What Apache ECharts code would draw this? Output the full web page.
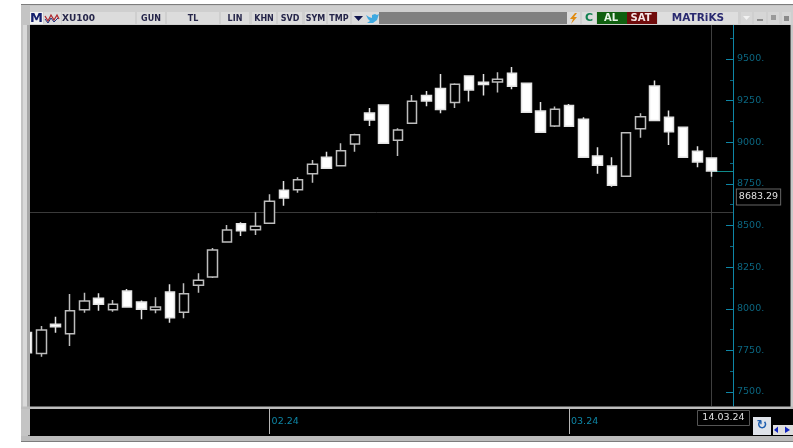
<!DOCTYPE html>
<html>
<head>
<meta charset="utf-8">
<style>html,body{margin:0;padding:0;background:#fff}#chart{width:793px;height:448px}</style>
<script src="https://cdn.jsdelivr.net/npm/echarts@6/dist/echarts.min.js"></script>
</head>
<body>
<div id="chart"></div>
<script>
const dates = ['09.01.24','10.01.24','11.01.24','12.01.24','15.01.24','16.01.24','17.01.24','18.01.24','19.01.24','22.01.24','23.01.24','24.01.24','25.01.24','26.01.24','29.01.24','30.01.24','31.01.24',
  '01.02.24','02.02.24','05.02.24','06.02.24','07.02.24','08.02.24','09.02.24','12.02.24','13.02.24','14.02.24','15.02.24','16.02.24','19.02.24','20.02.24','21.02.24','22.02.24','23.02.24','26.02.24','27.02.24','28.02.24','29.02.24',
  '01.03.24','04.03.24','05.03.24','06.03.24','07.03.24','08.03.24','11.03.24','12.03.24','13.03.24','14.03.24','15.03.24',''];
const opens = [7857,7732,7907,7850,7994,8063,7994,8107,8041,7994,8101,7979,8141,8191,8401,8511,8475,8513,8711,8715,8811,8910,8859,8990,9176,9224,9012,9114,9280,9322,9238,9398,9360,9362,9414,9354,9188,9098,9220,9138,8917,8857,8796,9081,9338,9150,9090,8946,8905];
const closes = [7736,7872,7892,7988,8047,8027,8027,8011,7997,8011,7946,8090,8171,8353,8473,8469,8495,8645,8665,8775,8868,8844,8949,9045,9134,8994,9074,9246,9248,9196,9348,9314,9346,9378,9336,9180,9060,9198,9096,8910,8862,8741,9057,9153,9130,9063,8910,8881,8827];
const lows = [7736,7712,7856,7776,7976,7988,7982,8011,7937,7973,7916,7943,8096,8185,8401,8437,8443,8513,8619,8697,8757,8844,8859,8943,9098,8994,8917,9114,9216,9174,9206,9244,9280,9298,9318,9180,9060,9092,9092,8910,8811,8733,8796,9027,9130,8984,8910,8850,8793];
const highs = [7857,7896,7952,8089,8096,8093,8053,8119,8049,8069,8147,8153,8213,8365,8503,8519,8579,8687,8767,8790,8893,8943,8994,9051,9206,9224,9084,9284,9308,9410,9354,9398,9410,9420,9452,9354,9242,9214,9230,9150,8970,8910,9057,9174,9370,9190,9094,8976,8905];

const yTicks = [7500,7750,8000,8250,8500,8750,9000,9250,9500];
const yMinorTicks = [7625,7875,8125,8375,8625,8875,9125,9375,9625];
const monthStarts = {'01.02.24':'02.24','01.03.24':'03.24'};

const lastPrice = 8829;
const readoutPrice = 8683.29;
const readoutDate = '14.03.24';
const crossPrice = 8581;
const crossIndex = 48;

const toolbarLeft = [
  ['XU100',62,73,'left'],['GUN',137,28],['TL',167,52],['LIN',221,28],['KHN',252,24],['SVD',278,24],['SYM',305,21],['TMP',328,22]
];
const uiFont = '"DejaVu Sans", Verdana, sans-serif';
const teal = '#0e86a6';
const labelTeal = '#0b6680';

const candleData = opens.map((o, i) => [o, closes[i], lows[i], highs[i]]);

function box(x, y, w, h, fill, z, stroke) {
  return {type:'rect', shape:{x, y, width:w, height:h}, style:{fill, stroke:stroke || null, lineWidth:1}, z: z === undefined ? 100 : z, silent:true};
}
function label(x, y, text, fill, size, align, weight) {
  return {type:'text', x, y, style:{text, fill, font:(weight || 'bold')+' '+size+'px '+uiFont, align:align || 'center', verticalAlign:'middle'}, z:101, silent:true};
}
function poly(points, fill) {
  return {type:'polygon', shape:{points}, style:{fill}, z:101, silent:true};
}

const chrome = [
  // black panels behind the plot
  box(30,25,761,382,'#000',-10),
  box(28,409,765,27,'#000',-10),
  // window frame
  box(0,4,21,440,'#fff'),
  box(21,4,772,1.5,'#7d7d7d'),
  box(21,5.5,772,19.5,'#cfcfcf'),
  box(21,5.5,9,430,'#c4c4c4'),
  box(23,25,4,382,'#d9d9d9'),
  box(27,25,3,382,'#a8a8a8'),
  box(790.5,25,2.5,382,'#c8c8c8'),
  box(21,406.5,772,2.5,'#bdbdbd'),
  box(21,409,7,27,'#c4c4c4'),
  box(21,436,772,5,'#bcbcbc'),
  box(21,441,772,1,'#7d7d7d'),
  // toolbar left
  box(30,12,13,12,'#f2f2f2'),
  label(36.5,18.5,'M','#14206e',13),
  box(44,12,17,12,'#dcdcdc'),
  {type:'polyline', shape:{points:[[45,16],[48,21],[51,15],[54,20],[57,15],[59,19]]}, style:{stroke:'#b02a30', lineWidth:1.3, fill:null}, z:101, silent:true},
  {type:'polyline', shape:{points:[[45,19],[48,23],[51,18],[54,22],[58,18]]}, style:{stroke:'#24347e', lineWidth:1, fill:null}, z:101, silent:true},
  box(352,12,13,12,'#dcdcdc'),
  poly([[354,16],[363,16],[358.5,21]],'#10154e'),
  box(365,12,14,12,'#dcdcdc'),
  poly([[366,15],[369,17],[372,18],[372,15],[375,14],[377,15],[379,14],[378,17],[377,20],[373,23],[367,23],[370,21],[368,19],[367,17]],'#3fa9e0'),
  box(379,12,188,12,'#808080'),
  // toolbar right
  box(567,12,13,12,'#dcdcdc'),
  poly([[575,13],[570,19],[573,19],[571,24],[577,17],[574,17],[577,13]],'#e08a10'),
  box(582,12,14,12,'#dcdcdc'),
  label(589,18.5,'C','#118050',11),
  box(597,12,30,12,'#0f5f0f'),
  label(611,18.5,'AL','#e8f5e8',10),
  box(627,12,30,12,'#6f0b0b'),
  label(641,18.5,'SAT','#f6e6e6',10),
  box(658,12,80,12,'#dedede'),
  label(698,18.5,'MATRiKS','#2a2a70',10.5),
  box(741,12,11,12,'#d6d6d6'),
  poly([[743,16],[750,16],[746.5,20]],'#f2f2f2'),
  box(754,12,12,12,'#d6d6d6'),
  box(757,19,6,2,'#8a8a8a'),
  box(768,12,11,12,'#d6d6d6'),
  box(771,15,5,5,'#9a9a9a'),
  box(782,12,9,12,'#d6d6d6'),
  box(784,16,5,5,'#8a8a8a'),
  // date readout and scroll buttons
  box(697.5,410.5,52,15,'#000',102,'#555'),
  {type:'text', x:723.5, y:418, style:{text:readoutDate, fill:'#e0e0e0', font:'9.5px '+uiFont, align:'center', verticalAlign:'middle'}, z:103, silent:true},
  box(753,417,18,18,'#dfe3ea'),
  label(762,426,'↻','#1f5fb0',13),
  box(773,425,20,10,'#dedede'),
  poly([[778,426.5],[778,433],[774,430]],'#1226c0'),
  poly([[785,426.5],[785,433],[790,430]],'#1226c0')
].concat(toolbarLeft.map(b => box(b[1],12,b[2],12,'#dcdcdc')))
 .concat(toolbarLeft.map(b => b[3] === 'left'
   ? label(b[1],18.5,b[0],'#26264a',9,'left')
   : label(b[1]+b[2]/2,18.5,b[0],'#26264a',8)));

const yAxisBase = {
  type:'value', position:'right', min:7416, max:9704, scale:true,
  splitLine:{show:false}
};

const chart = echarts.init(document.getElementById('chart'), null, {renderer:'canvas'});
chart.setOption({
  animation:false,
  backgroundColor:'#fff',
  grid:{left:20.1, right:60, top:25, height:381, containLabel:false},
  xAxis:{
    type:'category', data:dates, boundaryGap:true, offset:3,
    axisLine:{show:false},
    axisTick:{show:true, alignWithLabel:true, length:25, interval:(i, v) => v in monthStarts, lineStyle:{color:'#b8b8b8', width:1}},
    axisLabel:{
      interval:(i, v) => v in monthStarts,
      formatter:v => monthStarts[v] || '',
      align:'left', margin:8, padding:[0,0,0,2],
      color:teal, fontFamily:uiFont, fontSize:9.5
    },
    splitLine:{show:false}
  },
  yAxis:[
    Object.assign({}, yAxisBase, {
      axisLine:{show:true, lineStyle:{color:teal, width:1}},
      axisTick:{show:true, inside:true, length:7, customValues:yTicks, lineStyle:{color:teal}},
      axisLabel:{customValues:yTicks, formatter:v => v + '.', margin:4, color:labelTeal, fontFamily:uiFont, fontSize:9.5}
    }),
    Object.assign({}, yAxisBase, {
      axisLine:{show:false},
      axisTick:{show:true, inside:true, length:3, customValues:yMinorTicks, lineStyle:{color:labelTeal}},
      axisLabel:{show:false}
    })
  ],
  series:[{
    type:'candlestick',
    data:candleData,
    barWidth:10,
    clip:true,
    itemStyle:{color:'#000', color0:'#fff', borderColor:'#bdbdbd', borderColor0:'#e2e2e2', borderWidth:1.5},
    markLine:{
      silent:true, symbol:'none', animation:false, label:{show:false}, z:1,
      data:[
        {yAxis:crossPrice, lineStyle:{color:'#3a3a3a', width:1, type:'solid'}},
        {xAxis:crossIndex, lineStyle:{color:'#3f3f3f', width:1, type:'solid'}}
      ]
    },
    markPoint:{
      silent:true, animation:false, symbol:'rect', symbolSize:0,
      data:[{
        coord:[dates.length - 1, readoutPrice],
        label:{
          show:true, position:'right', distance:11, offset:[0,2], formatter:String(readoutPrice),
          color:'#e0e0e0', backgroundColor:'#000', borderColor:'#666', borderWidth:1,
          padding:[3,2,2,2], fontFamily:uiFont, fontSize:9.5
        }
      }]
    }
  }]
});

// last price stub runs from the last candle to the axis line
const [stubX, stubY] = chart.convertToPixel({gridIndex:0}, [crossIndex, lastPrice]);
const axisX = chart.getWidth() - 60;
chart.setOption({
  graphic:{elements:chrome.concat([{
    type:'line', shape:{x1:stubX, y1:Math.round(stubY) + 0.5, x2:axisX, y2:Math.round(stubY) + 0.5},
    style:{stroke:'#0f8a8a', lineWidth:1}, z:1, silent:true
  }])}
});
</script>
</body>
</html>
